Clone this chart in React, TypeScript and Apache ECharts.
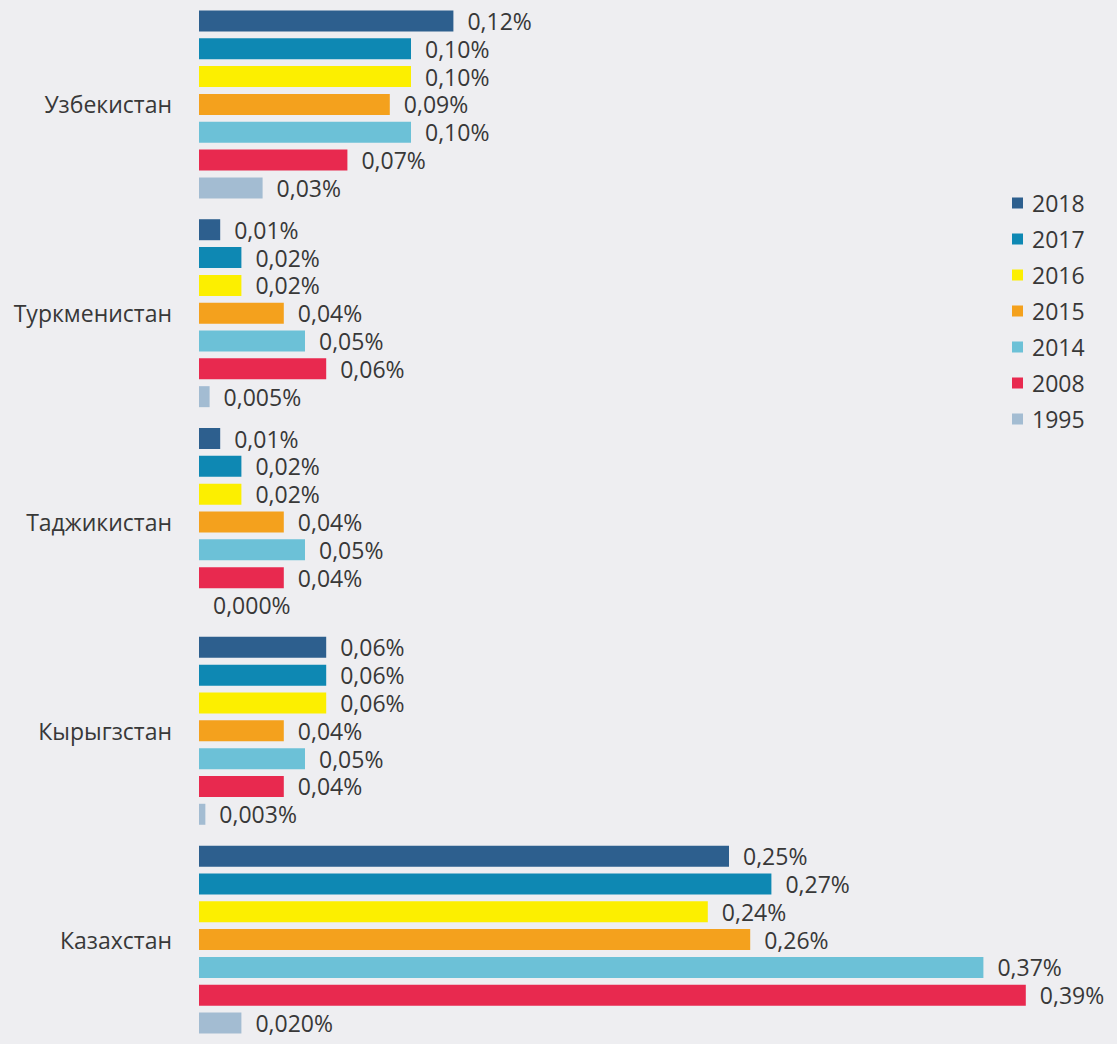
import React, { useEffect, useRef } from "react";
import * as echarts from "echarts";

const countries = ["Узбекистан", "Туркменистан", "Таджикистан", "Кырыгзстан", "Казахстан"];
const years = ["2018", "2017", "2016", "2015", "2014", "2008", "1995"];
const colors = ["#2d5f8e", "#0e88b3", "#fcef00", "#f4a11d", "#6cc1d7", "#e8294f", "#a3bcd2"];

const v2018 = [0.12, 0.01, 0.01, 0.06, 0.25];
const v2017 = [0.10, 0.02, 0.02, 0.06, 0.27];
const v2016 = [0.10, 0.02, 0.02, 0.06, 0.24];
const v2015 = [0.09, 0.04, 0.04, 0.04, 0.26];
const v2014 = [0.10, 0.05, 0.05, 0.05, 0.37];
const v2008 = [0.07, 0.06, 0.04, 0.04, 0.39];
const v1995 = [0.03, 0.005, 0.000, 0.003, 0.020];
const decimals1995 = [2, 3, 3, 3, 3];

const seriesValues = [v2018, v2017, v2016, v2015, v2014, v2008, v1995];

const FONT = "'Open Sans', 'Noto Sans', sans-serif";
const FS = 23;

export default function App() {
  const ref = useRef<HTMLDivElement>(null);
  useEffect(() => {
    if (!ref.current) return;
    const chart = echarts.init(ref.current, null, { renderer: "svg" });
    const series = years.map((y, si) => ({
      name: y,
      type: "bar",
      data: seriesValues[si],
      barWidth: 21,
      barGap: "32.5%",
      itemStyle: { color: colors[si] },
      label: {
        show: true,
        position: "right",
        distance: 14,
        fontSize: FS,
        lineHeight: 24,
        fontFamily: FONT,
        color: "#383838",
        formatter: (p: any) => {
          const dec = si === 6 ? decimals1995[p.dataIndex] : 2;
          return (p.value as number).toFixed(dec).replace(".", ",") + "%";
        },
      },
    }));
    chart.setOption({
      animation: false,
      backgroundColor: "#eeeef1",
      grid: { left: 199, top: -2, width: 848, height: 1055, containLabel: false },
      legend: {
        orient: "vertical",
        left: 1007,
        top: 186,
        itemWidth: 11,
        itemHeight: 11,
        itemGap: 12,
        icon: "rect",
        data: years,
        textStyle: { fontSize: FS, lineHeight: 24, fontFamily: FONT, color: "#383838", padding: [0, 0, 0, 4] },
      },
      xAxis: {
        type: "value",
        min: 0,
        max: 0.4,
        show: false,
      },
      yAxis: {
        type: "category",
        inverse: true,
        data: countries,
        axisLine: { show: false },
        axisTick: { show: false },
        axisLabel: { fontSize: FS, lineHeight: 24, fontFamily: FONT, color: "#383838", margin: 27 },
      },
      series,
    });
    return () => chart.dispose();
  }, []);
  return (
    <div
      ref={ref}
      style={{ position: "absolute", left: 0, top: 0, width: 1117, height: 1044 }}
    />
  );
}
